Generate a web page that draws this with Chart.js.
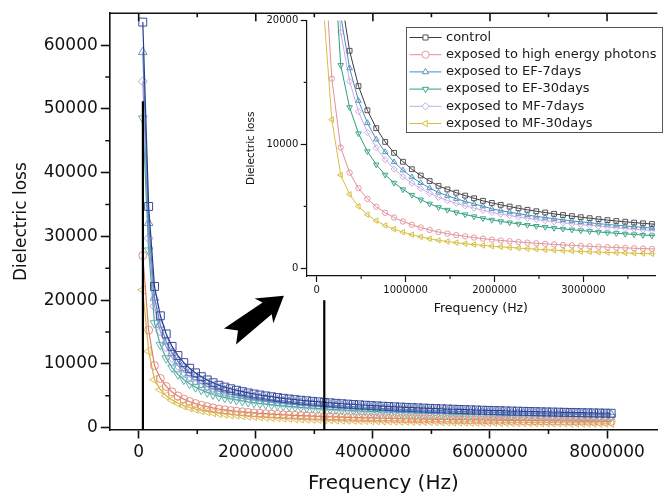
<!DOCTYPE html>
<html>
<head>
<meta charset="utf-8">
<title>Dielectric loss</title>
<script src="https://cdn.jsdelivr.net/npm/chart.js@4.4.1/dist/chart.umd.min.js"></script>
<style>
  body { margin: 0; background: #fff; overflow: hidden; }
  #wrap { position: relative; width: 664px; height: 493px; }
  #main { position: absolute; left: 0; top: 0; }
  #inset { position: absolute; left: 236px; top: 12px; }
</style>
</head>
<body>
<div id="wrap">
  <canvas id="main" width="664" height="493"></canvas>
  <canvas id="inset" width="428" height="312"></canvas>
</div>
<script>
// frequency (Hz)
const freq = [
  70000, 170000, 270000, 370000, 470000, 570000, 670000, 770000, 870000, 970000,
  1070000, 1170000, 1270000, 1370000, 1470000, 1570000, 1670000, 1770000, 1870000, 1970000,
  2070000, 2170000, 2270000, 2370000, 2470000, 2570000, 2670000, 2770000, 2870000, 2970000,
  3070000, 3170000, 3270000, 3370000, 3470000, 3570000, 3670000, 3770000, 3870000, 3970000,
  4070000, 4170000, 4270000, 4370000, 4470000, 4570000, 4670000, 4770000, 4870000, 4970000,
  5070000, 5170000, 5270000, 5370000, 5470000, 5570000, 5670000, 5770000, 5870000, 5970000,
  6070000, 6170000, 6270000, 6370000, 6470000, 6570000, 6670000, 6770000, 6870000, 6970000,
  7070000, 7170000, 7270000, 7370000, 7470000, 7570000, 7670000, 7770000, 7870000, 7970000,
  8070000
];

// dielectric loss per sample
const control = [
  63600, 34700, 22150, 17550, 14700, 12750, 11310, 10200, 9320, 8600,
  8000, 7490, 7045, 6660, 6370, 6105, 5870, 5655, 5450, 5280,
  5125, 4985, 4850, 4725, 4610, 4505, 4400, 4305, 4215, 4130,
  4050, 3970, 3895, 3825, 3760, 3695, 3635, 3580, 3525, 3470,
  3420, 3370, 3320, 3275, 3230, 3190, 3145, 3110, 3070, 3030,
  2995, 2960, 2925, 2895, 2860, 2830, 2800, 2770, 2745, 2715,
  2690, 2665, 2635, 2610, 2590, 2565, 2540, 2520, 2495, 2475,
  2455, 2435, 2415, 2395, 2375, 2355, 2335, 2320, 2300, 2285,
  2265
];
const photons = [
  27000, 15300, 9746, 7722, 6468, 5610, 4976, 4488, 4101, 3784,
  3520, 3296, 3100, 2930, 2803, 2686, 2583, 2488, 2398, 2323,
  2255, 2193, 2134, 2079, 2028, 1982, 1936, 1894, 1855, 1817,
  1782, 1747, 1714, 1683, 1654, 1626, 1599, 1575, 1551, 1527,
  1505, 1483, 1461, 1441, 1421, 1404, 1384, 1368, 1351, 1333,
  1318, 1302, 1287, 1274, 1258, 1245, 1232, 1219, 1208, 1195,
  1184, 1173, 1159, 1148, 1140, 1129, 1118, 1109, 1098, 1089,
  1080, 1071, 1063, 1054, 1045, 1036, 1027, 1021, 1012, 1005,
  997
];
const ef7days = [
  58900, 32100, 20380, 16150, 13520, 11730, 10405, 9384, 8574, 7912,
  7360, 6891, 6481, 6127, 5860, 5617, 5400, 5203, 5014, 4805,
  4664, 4536, 4414, 4300, 4195, 4100, 4004, 3918, 3836, 3758,
  3686, 3613, 3544, 3481, 3422, 3362, 3308, 3258, 3208, 3158,
  3112, 3033, 2988, 2948, 2907, 2871, 2831, 2799, 2763, 2727,
  2696, 2664, 2633, 2606, 2574, 2547, 2520, 2493, 2471, 2444,
  2421, 2399, 2372, 2349, 2331, 2309, 2286, 2268, 2246, 2228,
  2210, 2192, 2174, 2156, 2138, 2120, 2102, 2088, 2070, 2057,
  2039
];
const ef30days = [
  48500, 27800, 16390, 12990, 10880, 9435, 8369, 7548, 6897, 6364,
  5920, 5543, 5213, 4928, 4714, 4518, 4344, 4185, 4033, 3907,
  3793, 3689, 3589, 3497, 3411, 3334, 3256, 3186, 3119, 3056,
  2997, 2938, 2882, 2831, 2782, 2734, 2690, 2649, 2609, 2568,
  2531, 2494, 2457, 2424, 2390, 2361, 2327, 2301, 2272, 2242,
  2216, 2190, 2165, 2142, 2116, 2094, 2072, 2050, 2031, 2009,
  1991, 1972, 1950, 1931, 1917, 1898, 1880, 1865, 1846, 1832,
  1817, 1802, 1787, 1772, 1758, 1743, 1728, 1717, 1702, 1691,
  1676
];
const mf7days = [
  54300, 29700, 19049, 15093, 12642, 10965, 9727, 8772, 8015, 7396,
  6880, 6441, 6059, 5728, 5478, 5250, 5048, 4863, 4687, 4514,
  4382, 4262, 4147, 4040, 3942, 3852, 3762, 3681, 3604, 3531,
  3463, 3394, 3330, 3270, 3215, 3159, 3108, 3061, 3014, 2967,
  2924, 2865, 2822, 2784, 2746, 2712, 2673, 2644, 2610, 2576,
  2546, 2516, 2486, 2461, 2431, 2406, 2380, 2355, 2333, 2308,
  2287, 2265, 2240, 2219, 2202, 2180, 2159, 2142, 2121, 2104,
  2087, 2070, 2053, 2036, 2019, 2002, 1985, 1972, 1955, 1942,
  1925
];
const mf30days = [
  21600, 12000, 7531, 5967, 4998, 4335, 3845, 3468, 3169, 2924,
  2720, 2547, 2395, 2264, 2166, 2076, 1996, 1923, 1853, 1795,
  1743, 1690, 1640, 1592, 1548, 1505, 1465, 1430, 1397, 1366,
  1337, 1310, 1285, 1262, 1241, 1219, 1200, 1181, 1163, 1145,
  1129, 1112, 1096, 1081, 1066, 1053, 1038, 1024, 1009, 994,
  978, 960, 945, 931, 918, 906, 896, 886, 878, 869,
  861, 853, 843, 835, 829, 821, 813, 806, 798, 792,
  786, 779, 773, 766, 760, 754, 747, 742, 736, 731,
  725
];

const seriesNames = [
  'control',
  'exposed to high energy photons',
  'exposed to EF-7days',
  'exposed to EF-30days',
  'exposed to MF-7days',
  'exposed to MF-30days'
];
const seriesValues = [control, photons, ef7days, ef30days, mf7days, mf30days];

// tick values
const mainXTicks = [0, 2000000, 4000000, 6000000, 8000000];
const mainXMinor = [1000000, 3000000, 5000000, 7000000];
const mainYTicks = [0, 10000, 20000, 30000, 40000, 50000, 60000];
const mainYMinor = [5000, 15000, 25000, 35000, 45000, 55000];
const insetXTicks = [0, 1000000, 2000000, 3000000];
const insetXMinor = [500000, 1500000, 2500000, 3500000];
const insetYTicks = [0, 10000, 20000];
const insetYMinor = [5000, 15000];

// zoom guide lines and arrow, in data units of the main plot
const zoomMarks = [{x: 72000, top: 51200}, {x: 3170000, top: 20000}];
const arrowFrom = {x: 1560000, y: 14300};
const arrowTo = {x: 2480000, y: 20700};

const FONT = "'DejaVu Sans', 'Liberation Sans', sans-serif";
Chart.defaults.font.family = FONT;

const markers = [
  {style: 'rect', rot: 0},
  {style: 'circle', rot: 0},
  {style: 'triangle', rot: 0},
  {style: 'triangle', rot: 180},
  {style: 'rectRot', rot: 0},
  {style: 'triangle', rot: -90}
];
const mainColors = [
  {line: '#2a3a8c', mark: '#3b4c9c'},
  {line: '#d9806e', mark: '#e4917f'},
  {line: '#5a86c0', mark: '#6f96c8'},
  {line: '#4aa6a0', mark: '#62b4ae'},
  {line: '#a993d6', mark: '#b4a2dc'},
  {line: '#d9b23a', mark: '#dfbc55'}
];
const insetColors = [
  {line: '#3a3a48', mark: '#555555'},
  {line: '#e0909a', mark: '#e39aa2'},
  {line: '#4c8ab8', mark: '#5c96c0'},
  {line: '#2e9c80', mark: '#3fa68c'},
  {line: '#c4aee0', mark: '#c4aee0'},
  {line: '#d8be40', mark: '#d8be40'}
];

function buildDatasets(colors, radius, lineWidth) {
  return seriesValues.map((vals, i) => ({
    label: seriesNames[i],
    data: freq.map((f, k) => ({x: f, y: vals[k]})),
    borderColor: colors[i].line,
    borderWidth: lineWidth,
    pointStyle: markers[i].style,
    pointRotation: markers[i].rot,
    pointRadius: radius[i],
    pointBorderColor: colors[i].mark,
    pointBackgroundColor: 'rgba(255,255,255,0)',
    pointBorderWidth: 1,
    tension: 0,
    fill: false
  }));
}

// minor ticks, top frame line
const frame = {
  id: 'frame',
  afterDraw(chart, args, o) {
    const {ctx, chartArea: a, scales: {x, y}} = chart;
    ctx.save();
    ctx.strokeStyle = o.color;
    ctx.lineWidth = o.width;
    ctx.beginPath();
    o.xMinor.forEach(v => {
      const px = x.getPixelForValue(v);
      ctx.moveTo(px, a.bottom); ctx.lineTo(px, a.bottom + o.minorLen);
    });
    o.yMinor.forEach(v => {
      const py = y.getPixelForValue(v);
      ctx.moveTo(a.left, py); ctx.lineTo(a.left - o.minorLen, py);
    });
    if (o.top) {
      ctx.moveTo(a.left, a.top); ctx.lineTo(a.right, a.top);
      o.xMajor.forEach(v => {
        const px = x.getPixelForValue(v);
        ctx.moveTo(px, a.top); ctx.lineTo(px, a.top + o.majorLen);
      });
      o.xMinor.forEach(v => {
        const px = x.getPixelForValue(v);
        ctx.moveTo(px, a.top); ctx.lineTo(px, a.top + o.minorLen);
      });
    }
    ctx.stroke();
    ctx.restore();
  }
};

const callouts = {
  id: 'callouts',
  afterDatasetsDraw(chart) {
    const {ctx, chartArea: a, scales: {x, y}} = chart;
    ctx.save();
    ctx.strokeStyle = '#000';
    ctx.lineWidth = 2.2;
    zoomMarks.forEach(m => {
      const px = x.getPixelForValue(m.x);
      ctx.beginPath();
      ctx.moveTo(px, y.getPixelForValue(m.top));
      ctx.lineTo(px, a.bottom);
      ctx.stroke();
    });
    // notched block arrow pointing at the inset
    const x0 = x.getPixelForValue(arrowFrom.x), y0 = y.getPixelForValue(arrowFrom.y);
    const x1 = x.getPixelForValue(arrowTo.x), y1 = y.getPixelForValue(arrowTo.y);
    const L = Math.hypot(x1 - x0, y1 - y0);
    const ux = (x1 - x0) / L, uy = (y1 - y0) / L;
    const nx = -uy, ny = ux;
    const shape = [[L, 0], [L - 25, 15.5], [L - 21, 7.5], [0, 10], [10, 0], [0, -10], [L - 21, -7.5], [L - 25, -15.5]];
    ctx.fillStyle = '#000';
    ctx.beginPath();
    shape.forEach(([s, t], i) => {
      const px = x0 + ux * s + nx * t, py = y0 + uy * s + ny * t;
      if (i) ctx.lineTo(px, py); else ctx.moveTo(px, py);
    });
    ctx.closePath();
    ctx.fill();
    ctx.restore();
  }
};

const boxLegend = {
  id: 'boxLegend',
  afterDraw(chart, args, o) {
    const ctx = chart.ctx;
    ctx.save();
    ctx.fillStyle = '#fff';
    ctx.fillRect(o.left, o.top, o.width, o.height);
    ctx.strokeStyle = '#555';
    ctx.lineWidth = 1;
    ctx.strokeRect(o.left + 0.5, o.top + 0.5, o.width, o.height);
    ctx.font = o.fontSize + 'px ' + FONT;
    ctx.textBaseline = 'middle';
    chart.data.datasets.forEach((ds, i) => {
      const y = o.top + o.firstRow + i * o.rowGap;
      ctx.strokeStyle = ds.borderColor;
      ctx.lineWidth = 1;
      ctx.beginPath();
      ctx.moveTo(o.left + 3.5, y); ctx.lineTo(o.left + 35.5, y);
      ctx.stroke();
      ctx.strokeStyle = ds.pointBorderColor;
      ctx.fillStyle = '#fff';
      Chart.helpers.drawPoint(ctx, {pointStyle: ds.pointStyle, rotation: ds.pointRotation, radius: 3.6, borderWidth: 1}, o.left + 19.5, y);
      ctx.fillStyle = '#1a1a1a';
      ctx.fillText(ds.label, o.left + 40, y);
    });
    ctx.restore();
  }
};

function axis(opts) {
  return {
    type: 'linear',
    min: opts.min,
    max: opts.max,
    afterBuildTicks: s => { s.ticks = opts.ticks.map(v => ({value: v})); },
    afterFit: s => { if (opts.height) s.height = opts.height; if (opts.width) s.width = opts.width; },
    grid: { drawOnChartArea: false, drawTicks: true, tickLength: opts.tickLen, tickWidth: opts.lineW, tickColor: '#111' },
    border: { display: true, color: '#111', width: opts.lineW },
    ticks: {
      autoSkip: false, maxRotation: 0, padding: opts.pad, color: '#111',
      font: { size: opts.tickFont }, callback: v => String(v)
    },
    title: { display: true, text: opts.title, color: '#111', font: { size: opts.titleFont }, padding: opts.titlePad }
  };
}

new Chart(document.getElementById('main'), {
  type: 'line',
  data: { datasets: buildDatasets(mainColors, [5.6, 4, 5, 5, 4.6, 5], 1.2) },
  options: {
    responsive: false, animation: false, devicePixelRatio: 1, events: [],
    layout: { padding: { top: 10.7, right: 0.5, left: 0, bottom: 0 } },
    plugins: {
      legend: { display: false }, tooltip: { enabled: false },
      frame: { color: '#111', width: 1.6, minorLen: 4, majorLen: 8, top: true, xMajor: mainXTicks, xMinor: mainXMinor, yMinor: mainYMinor }
    },
    scales: {
      x: axis({ min: -502000, max: 8860000, ticks: mainXTicks, height: 63, tickLen: 8.5, lineW: 1.6, pad: 4,
                tickFont: 17, title: 'Frequency (Hz)', titleFont: 20, titlePad: { top: 0, bottom: -3 } }),
      y: axis({ min: -360, max: 65000, ticks: mainYTicks, width: 109.3, tickLen: 8.5, lineW: 1.6, pad: 3,
                tickFont: 17, title: 'Dielectric loss', titleFont: 17, titlePad: { top: 11.5, bottom: 0 } })
    }
  },
  plugins: [frame, callouts]
});

new Chart(document.getElementById('inset'), {
  type: 'line',
  data: { datasets: buildDatasets(insetColors, [3.4, 2.7, 3.2, 3.2, 3.1, 3.2], 1) },
  options: {
    responsive: false, animation: false, devicePixelRatio: 1, events: [],
    layout: { padding: { top: 5.3, right: 9, left: 0, bottom: 0 } },
    plugins: {
      legend: { display: false }, tooltip: { enabled: false },
      frame: { color: '#222', width: 1.2, minorLen: 3, majorLen: 6, top: false, xMajor: insetXTicks, xMinor: insetXMinor, yMinor: insetYMinor },
      boxLegend: { left: 170, top: 15, width: 256, height: 105, firstRow: 10.5, rowGap: 17.2, fontSize: 13 }
    },
    scales: {
      x: axis({ min: -112500, max: 3805000, ticks: insetXTicks, height: 48, tickLen: 6, lineW: 1.2, pad: 2,
                tickFont: 10, title: 'Frequency (Hz)', titleFont: 12.5, titlePad: { top: 0, bottom: 7.5 } }),
      y: axis({ min: -613, max: 20000, ticks: insetYTicks, width: 70.7, tickLen: 6, lineW: 1.2, pad: 2.4,
                tickFont: 10, title: 'Dielectric loss', titleFont: 10.5, titlePad: { top: 9.4, bottom: 0 } })
    }
  },
  plugins: [frame, boxLegend]
});
</script>
</body>
</html>
